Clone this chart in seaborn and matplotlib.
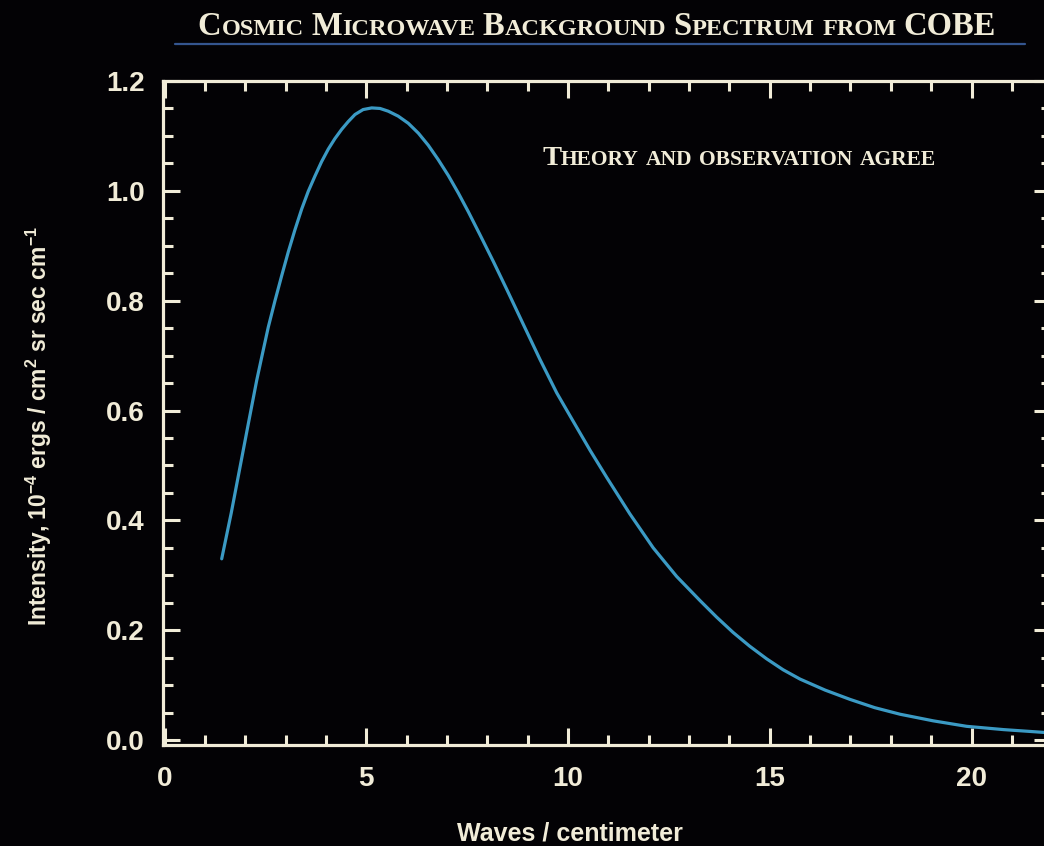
import matplotlib
matplotlib.use("Agg")
import matplotlib.pyplot as plt
import seaborn as sns
import pandas as pd
from matplotlib.offsetbox import TextArea, HPacker, AnnotationBbox
from matplotlib.lines import Line2D
from matplotlib.ticker import MultipleLocator

# Measured CMB spectrum (intensity in 1e-4 ergs / cm^2 sr sec cm^-1)
wavenumber = [1.415, 1.65, 1.869, 2.08, 2.283, 2.406, 2.57, 2.736, 2.9,
              3.066, 3.23, 3.398, 3.56, 3.727, 3.89, 4.057, 4.22, 4.389,
              4.55, 4.719, 4.92, 5.133, 5.34, 5.544, 5.79, 6.04, 6.29,
              6.535, 6.78, 7.031, 7.28, 7.527, 7.817, 8.15, 8.478, 8.89,
              9.304, 9.72, 10.13, 10.55, 10.96, 11.53, 12.11, 12.69, 13.27,
              13.68, 14.09, 14.5, 14.92, 15.33, 15.75, 16.37, 16.99, 17.6,
              18.23, 19.05, 19.88, 20.8, 21.78, 22.0]
intensity = [0.330, 0.413, 0.497, 0.578, 0.655, 0.697, 0.752, 0.800, 0.845,
             0.889, 0.929, 0.967, 0.999, 1.027, 1.053, 1.076, 1.095, 1.112,
             1.126, 1.139, 1.148, 1.151, 1.150, 1.145, 1.136, 1.123, 1.105,
             1.083, 1.057, 1.028, 0.996, 0.962, 0.920, 0.871, 0.821, 0.757,
             0.693, 0.632, 0.580, 0.527, 0.478, 0.412, 0.350, 0.298, 0.254,
             0.224, 0.196, 0.171, 0.148, 0.128, 0.111, 0.091, 0.074, 0.059,
             0.047, 0.035, 0.025, 0.019, 0.014, 0.013]

x_ticks = [0, 5, 10, 15, 20]
y_ticks = [0.0, 0.2, 0.4, 0.6, 0.8, 1.0, 1.2]

title_text = "Cosmic Microwave Background Spectrum from COBE"
note_text = "Theory and observation agree"
x_label = "Waves / centimeter"
y_label = r"Intensity, 10$^{-4}$ ergs / cm$^{2}$ sr sec cm$^{-1}$"

BG = "#030205"
CREAM = "#f1ecd8"
CURVE = "#3b9ac4"
RULE = "#34558f"

sns.set_theme(style="dark")
plt.rcParams.update({
    "figure.facecolor": BG,
    "axes.facecolor": BG,
    "savefig.facecolor": BG,
    "mathtext.fontset": "custom",
    "mathtext.rm": "Liberation Sans:bold",
    "mathtext.it": "Liberation Sans:bold",
    "mathtext.bf": "Liberation Sans:bold",
    "mathtext.default": "rm",
})
plt.rcParams["font.family"] = ["Liberation Sans", "DejaVu Sans"]

W, H = 1044, 846
fig = plt.figure(figsize=(W / 100, H / 100), dpi=100)
ax = fig.add_axes([163 / W, (H - 745) / H, 888 / W, 664 / H])

df = pd.DataFrame({"wavenumber": wavenumber, "intensity": intensity})
sns.lineplot(data=df, x="wavenumber", y="intensity", ax=ax, color=CURVE,
             linewidth=2.3, sort=False, estimator=None)

ax.set_xlim(-0.04, 21.97)
ax.set_ylim(-0.009, 1.198)
ax.set_xticks(x_ticks)
ax.set_yticks(y_ticks)
ax.set_xticklabels([str(v) for v in x_ticks])
ax.set_yticklabels([f"{v:.1f}" for v in y_ticks])
ax.xaxis.set_minor_locator(MultipleLocator(1))
ax.yaxis.set_minor_locator(MultipleLocator(0.05))
ax.grid(False)

for side in ["left", "bottom", "top", "right"]:
    ax.spines[side].set_visible(True)
    ax.spines[side].set_color(CREAM)
    ax.spines[side].set_linewidth(2.3)

ax.tick_params(which="both", direction="in", top=True, right=True,
               bottom=True, left=True, color=CREAM, width=2.2)
ax.tick_params(which="major", length=12)
ax.tick_params(which="minor", length=7)
ax.tick_params(axis="y", which="major", pad=13, labelsize=20,
               labelcolor=CREAM)
ax.tick_params(axis="x", which="major", pad=15, labelsize=20,
               labelcolor=CREAM)
for lab in ax.get_xticklabels() + ax.get_yticklabels():
    lab.set_fontweight("bold")

ax.set_xlabel(x_label, color=CREAM, fontsize=18, fontweight="bold")
ax.xaxis.set_label_coords(0.458, -0.134)
ax.xaxis.label.set_va("center")
ax.set_ylabel(y_label, color=CREAM, fontsize=16.5, fontweight="bold")
ax.yaxis.set_label_coords(-0.14, 0.48)
ax.yaxis.label.set_va("center")


def small_caps(text, big, small, color, gap):
    """Pack a string as small capitals: capitals large, lower case small."""
    words = []
    for word in text.split(" "):
        pieces, cur, cur_big = [], "", None
        for ch in word:
            is_big = ch.isupper()
            if cur_big is None or is_big == cur_big:
                cur += ch
            else:
                pieces.append((cur, cur_big))
                cur = ch
            cur_big = is_big
        pieces.append((cur, cur_big))
        areas = [TextArea(s.upper(), textprops=dict(
                    color=color, fontsize=big if b else small,
                    family="Liberation Serif", fontweight="bold"))
                 for s, b in pieces]
        words.append(HPacker(children=areas, align="baseline", pad=0, sep=0))
    return HPacker(children=words, align="baseline", pad=0, sep=gap)


title_box = small_caps(title_text, 23.5, 17.5, CREAM, 5.5)
fig.add_artist(AnnotationBbox(title_box, (597, H - 26),
                              xycoords="figure pixels",
                              box_alignment=(0.5, 0.5),
                              frameon=False, pad=0))
fig.add_artist(Line2D([175 / W, 1025 / W], [(H - 44) / H, (H - 44) / H],
                      transform=fig.transFigure, color=RULE, linewidth=1.6))

note_box = small_caps(note_text, 20.5, 15.5, CREAM, 5)
fig.add_artist(AnnotationBbox(note_box, (739, H - 158),
                              xycoords="figure pixels",
                              box_alignment=(0.5, 0.5),
                              frameon=False, pad=0))

fig.savefig("out.png", dpi=100, facecolor=BG)
